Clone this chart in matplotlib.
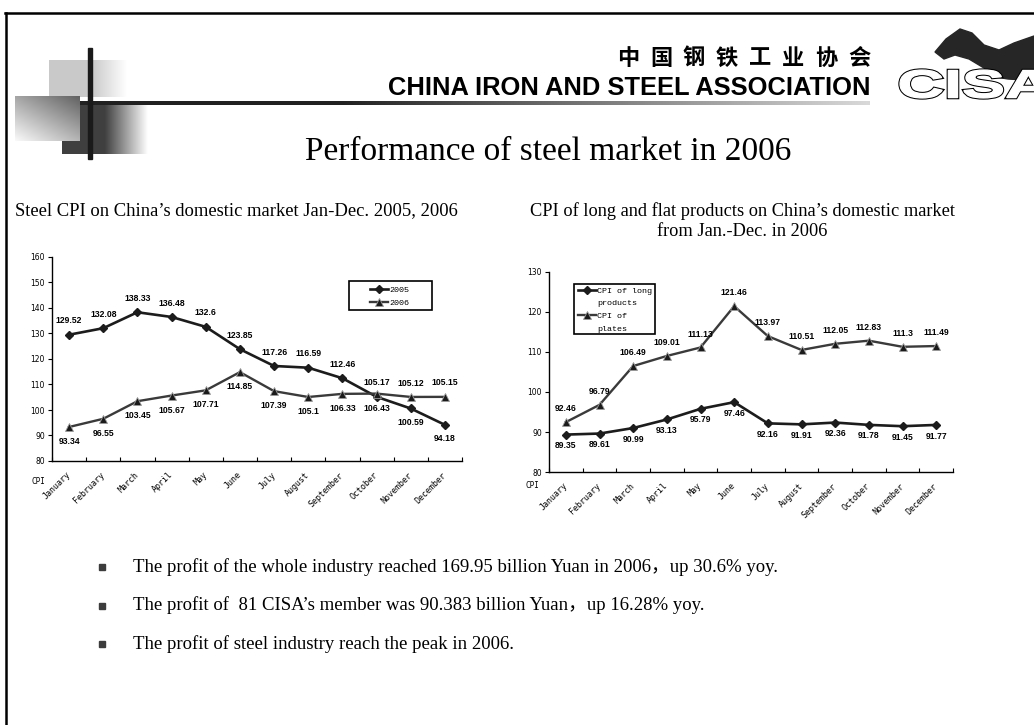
import numpy as np
import matplotlib
matplotlib.use("Agg")
from matplotlib import pyplot as plt
from matplotlib.patches import Rectangle, Polygon, PathPatch
from matplotlib.lines import Line2D
from matplotlib.textpath import TextPath
from matplotlib.font_manager import FontProperties
from matplotlib.transforms import Affine2D, ScaledTranslation

# ---- data ----
months = ["January", "February", "March", "April", "May", "June", "July",
          "August", "September", "October", "November", "December"]

cpi_2005 = [129.52, 132.08, 138.33, 136.48, 132.6, 123.85, 117.26, 116.59,
            112.46, 105.17, 100.59, 94.18]
cpi_2006 = [93.34, 96.55, 103.45, 105.67, 107.71, 114.85, 107.39, 105.1,
            106.33, 106.43, 105.12, 105.15]

cpi_long = [89.35, 89.61, 90.99, 93.13, 95.79, 97.46, 92.16, 91.91, 92.36,
            91.78, 91.45, 91.77]
cpi_plates = [92.46, 96.79, 106.49, 109.01, 111.13, 121.46, 113.97, 110.51,
              112.05, 112.83, 111.3, 111.49]

bullets = [
    "The profit of the whole industry reached 169.95 billion Yuan in 2006\uff0cup 30.6% yoy.",
    "The profit of  81 CISA\u2019s member was 90.383 billion Yuan\uff0cup 16.28% yoy.",
    "The profit of steel industry reach the peak in 2006.",
]

# where each value label sits (+ above the point, - below)
lab_2005 = [1] * 10 + [-1, -1]
lab_2006 = [-1] * 10 + [1, 1]

W, H = 1034, 725
fig = plt.figure(figsize=(W / 100, H / 100), dpi=100)
bg = fig.add_axes([0, 0, 1, 1])
bg.axis("off")


def grad(ax, x0, x1, y0, y1, c0, c1, solid=0.0):
    t = np.linspace(0, 1, 256)
    t = np.clip((t - solid) / (1 - solid), 0, 1)
    c0, c1 = np.array(c0, float), np.array(c1, float)
    row = c0[None, :] * (1 - t[:, None]) + c1[None, :] * t[:, None]
    ax.imshow(row[None, :, :], extent=(x0, x1, y1, y0), aspect="auto",
              interpolation="bilinear", zorder=1)


# slide decoration
grad(bg, 49, 127, 60, 97, (0.79,) * 3, (1, 1, 1), solid=0.55)
grad(bg, 62, 148, 105, 154, (0.25,) * 3, (1, 1, 1), solid=0.5)
u, v = np.meshgrid(np.linspace(0, 1, 120), np.linspace(0, 1, 90))
d = 0.55 * (1 - v) + 0.45 * u
g = 0.98 - 0.6 * d
bg.imshow(np.dstack([g, g, g]), extent=(15, 80, 141, 96), aspect="auto",
          interpolation="bilinear", zorder=2)
grad(bg, 57, 870, 101, 105, (0.13,) * 3, (0.85,) * 3, solid=0.35)
bg.add_patch(Rectangle((88, 48), 4, 111, color="#1a1a1a", zorder=4))

# frame of the slide
bg.plot([5, W], [12.5, 12.5], color="black", lw=1.8, zorder=5)
bg.plot([6, 6], [12.5, H], color="black", lw=1.8, zorder=5)

# header
hanzi = "中国钢铁工业协会"
for i, ch in enumerate(hanzi):
    bg.text(628 + i * 33, 58, ch, ha="center", va="center", fontsize=16,
            fontweight="bold", family="Noto Sans CJK SC", zorder=6)
bg.text(871, 95, "CHINA IRON AND STEEL ASSOCIATION", ha="right",
        va="baseline", fontsize=18.4, fontweight="bold",
        family="Liberation Sans", zorder=6)

# logo
blob = [(935, 52), (946, 39), (960, 29), (972, 33), (984, 45), (999, 50),
        (1014, 43), (1034, 36), (1034, 74), (1024, 80), (1008, 79),
        (996, 77), (984, 68), (969, 59), (955, 55), (944, 59)]
bg.add_patch(Polygon(blob, closed=True, color="#262626", zorder=5))
tp = TextPath((0, 0), "CISA", size=1,
              prop=FontProperties(family="Liberation Sans", weight="bold"))
bb = tp.get_extents()
tr = (Affine2D().translate(-bb.x0, -bb.y0)
      .scale(150 / bb.width, -28 / bb.height).translate(900, 98))
path = tr.transform_path(tp)
bg.add_patch(PathPatch(path, fc="white", ec="black", lw=2.4, zorder=6))
bg.add_patch(PathPatch(path, fc="white", ec="white", lw=0.9, zorder=7))

# titles
bg.text(548, 152, "Performance of steel market in 2006", ha="center",
        va="center", fontsize=24, family="Liberation Serif", zorder=6)
bg.text(15, 211, "Steel CPI on China\u2019s domestic market Jan-Dec. 2005, 2006",
        ha="left", va="center", fontsize=13.4, family="Liberation Serif")
bg.text(742, 211, "CPI of long and flat products on China\u2019s domestic market",
        ha="center", va="center", fontsize=13.2, family="Liberation Serif")
bg.text(742, 231, "from Jan.-Dec. in 2006", ha="center", va="center",
        fontsize=13.2, family="Liberation Serif")

# bullets
for k, txt in enumerate(bullets):
    y = 567 + k * 38.5
    bg.add_patch(Rectangle((99, y - 3), 6, 6, color="#3c3c3c", zorder=6))
    bg.text(133, y, txt, ha="left", va="center", fontsize=13.5,
            family=["Liberation Serif", "Noto Sans CJK SC"])

bg.set_xlim(0, W)
bg.set_ylim(H, 0)


def setup(ax, ymin, ymax):
    ax.set_facecolor("none")
    ax.set_xlim(-0.5, 11.5)
    ax.set_ylim(ymin, ymax)
    ax.set_yticks(range(ymin, ymax + 1, 10))
    ax.set_xticks(np.arange(-0.5, 12, 1))
    ax.set_xticklabels([])
    ax.set_xticks(range(12), minor=True)
    ax.set_xticklabels(months, minor=True, rotation=45, ha="right",
                       va="center", rotation_mode="anchor",
                       family="DejaVu Sans Mono", fontsize=6)
    nudge = ScaledTranslation(-4 / 72, 0, fig.dpi_scale_trans)
    for lab in ax.get_xticklabels(minor=True):
        lab.set_transform(lab.get_transform() + nudge)
    ax.tick_params(axis="x", which="major", direction="in", length=3,
                   width=0.8)
    ax.tick_params(axis="x", which="minor", length=0, pad=9)
    ax.tick_params(axis="y", direction="out", length=3, width=0.8,
                   labelsize=5.5, pad=2)
    for s in ["top", "right"]:
        ax.spines[s].set_visible(False)
    for s in ["left", "bottom"]:
        ax.spines[s].set_linewidth(1.0)


def labels(ax, vals, where, up, down):
    for i, val in enumerate(vals):
        off = up if where[i] > 0 else -down
        ax.annotate(f"{val:g}", (i, val), xytext=(0, off),
                    textcoords="offset points", ha="center", va="center",
                    fontsize=6.2, fontweight="bold", family="Liberation Sans")


x = np.arange(12)
dark = dict(color="#1c1c1c", lw=1.9, marker="D", ms=4.3, mfc="#1c1c1c",
            mec="#1c1c1c")
tri = dict(color="#3a3a3a", lw=1.7, marker="^", ms=5.5, mfc="#1a1a1a",
           mec="#9a9a9a", mew=0.6)
mono = FontProperties(family="Liberation Mono", size=6)

# left chart
ax1 = fig.add_axes([52 / W, 1 - 461 / H, 410 / W, 204 / H])
setup(ax1, 80, 160)
l1, = ax1.plot(x, cpi_2005, label="2005", **dark)
l2, = ax1.plot(x, cpi_2006, label="2006", **tri)
labels(ax1, cpi_2005, lab_2005, 10, 10)
labels(ax1, cpi_2006, lab_2006, 10, 10.5)
ax1.text(-0.034, -0.1, "CPI", transform=ax1.transAxes, fontsize=5.5,
         family="DejaVu Sans Mono", ha="center", va="center")
ax1.add_patch(Rectangle((0.724, 0.74), 0.203, 0.142, transform=ax1.transAxes,
                        fill=False, ec="black", lw=1.2, clip_on=False))
ax1.legend(handles=[l1, l2], loc="center left", bbox_to_anchor=(0.775, 0.805),
           frameon=False, borderpad=0, borderaxespad=0, handlelength=2.2,
           handletextpad=0.1, labelspacing=0.6, prop=mono)

# right chart
ax2 = fig.add_axes([549 / W, 1 - 472 / H, 404 / W, 200 / H])
setup(ax2, 80, 130)
r1, = ax2.plot(x, cpi_long, label="CPI of long products", **dark)
r2, = ax2.plot(x, cpi_plates, label="CPI of plates", **tri)
labels(ax2, cpi_long, [-1] * 12, 9, 8)
labels(ax2, cpi_plates, [1] * 12, 9.5, 9)
ax2.text(-0.04, -0.065, "CPI", transform=ax2.transAxes, fontsize=5.5,
         family="DejaVu Sans Mono", ha="center", va="center")
ax2.add_patch(Rectangle((0.062, 0.69), 0.2, 0.25, transform=ax2.transAxes,
                        fill=False, ec="black", lw=1.2, clip_on=False))
# the legend wraps each label onto two rows, key on the first row
blank = Line2D([], [], color="none")
ax2.legend(handles=[r1, blank, r2, blank],
           labels=["CPI of long", "products", "CPI of", "plates"],
           loc="center left", bbox_to_anchor=(0.072, 0.81), frameon=False,
           borderpad=0, borderaxespad=0, handlelength=2.2, handletextpad=0.1,
           labelspacing=0.6, prop=mono)

fig.savefig("out.png", dpi=100)
